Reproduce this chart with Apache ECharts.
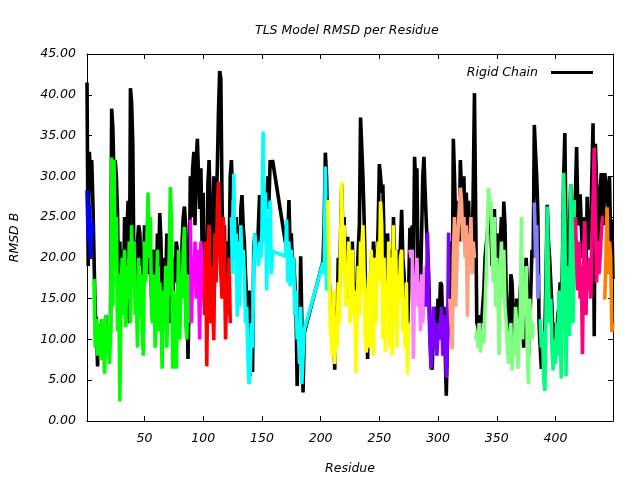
<!DOCTYPE html>
<html><head><meta charset="utf-8">
<script src="https://cdn.jsdelivr.net/npm/echarts@6/dist/echarts.min.js"></script>
<style>html,body{margin:0;padding:0;background:#fff}#c{width:640px;height:480px}</style>
</head><body><div id="c"></div>
<script>
const firstResidue = 1;
// Rigid chain RMSD B per residue (null = residue absent)
const rigidChain = [
41.5, 19, 33, 30, 32, 27, 20, 13, 12.5, 6.7,
12, 11, 9, 12.5, 10, 8, 13, 10.5, 12, 9,
11, 38.3, 36, 30, 32, 30, 25.5, 12, 22, 14,
21, 14, 25, 13, 23, 27, 12, 40.8, 39, 34,
18, 20, 14, 22, 24, 23, 19, 21, 17, 24,
22, 20, 26, 18, 21, 15, 19, 21, 13, 17,
23, 19, 25.5, 22, 12, 20, 14, 16, 23, 19,
12, 24, 18, 13, 20, 17, 22, 21, 14, 20,
16, 22, 25, 26.3, 24, 19, 7.6, 15, 30, 25,
31, 33, 24, 32, 34.6, 30, 26, 31, 22, 28,
14, 22, 16, 29, 32, 25, 18, 22, 30, 20,
26, 31, 38, 42.9, 42, 27, 20, 24, 15, 22,
17, 20, 30, 32, 28, 27, 22, 25, 18, 24,
20, 26, 27.7, 24, 22, 18, 15, 12, 16, 5.5,
10, 6, 21, 23, 22, 20, 24, 27.7, 22, 25,
24, 22, 28, 26, 30, 27, 32, 31, 32, null,
null, null, null, null, null, null, null, null, null, 21.9,
24, 22, 27.1, 21, 23, 19, 20, 17, 14, 4.3,
12, 9, 20.2, 12, 3.5, 10.8, null, null, null, null,
null, null, null, null, null, null, null, null, null, null,
null, 19.6, 24, 32.9, 30, 23, 18, 15, 12, 9,
13, 6.3, 14, 12, 20, 16, 23, 29, 22, 25,
18, 21, 22.6, 17, 14, 19, 22, 15, 17, 12,
17, 21, 24, 37.2, 37, 30, 25, 18, 14, 7.6,
18, 13, 20, 17, 22, 16, 21, 19, 24, 31.5,
30, 28, 29, 22, 19, 14, 23, 18, 21, 17,
15, 25, 20, 14, 21, 19, 16, 22, 25.9, 20,
18, 13, 17, 11, 16, 23.7, 22, 24, 18, 32.4,
29, 31, 17, 20, 16, 23, 30, 32.4, 28, 24.3,
24.3, 18, 12, 7, 6.3, 11, 14, 9, 12, 15,
12, 17, 16.7, 11, 14, 9, 3.1, 10, 12, 22,
14, 12, 34.6, 30, 24, 27, 25, 22, 32, 28,
26, 30, 22, 28, 24, 27, 21, 25, 19, 29,
40.2, 26, 12, 11.6, 10, 13, 12, 14, 16, 20,
20, 23, 25, 27, 24, 19, 22, 26, 18, 23,
21, 14, 22, 25, 20, 26.9, 24, 16, 13, 10,
12, 18, 17, 13, 9, 11, 15, 14, 12, 16,
18, 12, 9, 14, 20, 17, 8, 11, 16, 21,
20, 36.3, 33, 30, 25.5, 12, 9, 6.4, 10, 8,
11, 18, 26.5, 22, 20, 17, 14, 10, 12, 9,
10, 13, 14, 17, 12, 20, 30, 35.3, 22, 15,
18, 24, 29, 20, 14, 22, 28, 33.6, 26, 24,
27.8, 24, 20, 25, 22, 18, 27.5, 21, 24, 23,
30, 36.5, 10.4, 34, 29, 25, 22, 28, 30.4, 27,
24, 30.4, 29, 28, 26, 30, 22, 24.7, 17.4
];
// TLS model RMSD B per residue (null = residue absent)
const tlsModel = [
28.3, 22, 26.5, 20, 24.5, 23, 17.4, 9, 12.5, 8,
12, 11, 7.5, 12.5, 9, 5.8, 13, 8, 12, 7,
10, 32.3, 14, 32, 20, 25, 11, 18, 2.4, 16,
20, 13, 21, 11.5, 19, 15, 22, 12, 24, 17,
22, 13, 16, 9, 20, 13, 18, 11, 8, 22,
17, 22, 28, 20, 25, 13, 12, 18, 9, 14,
21, 11, 17, 14, 6.4, 16, 12, 19, 9, 15,
20, 28.7, 24, 6.4, 16, 11, 6.4, 13, 21, 10,
17, 15, 21, 23.8, 12, 10, 18, 12, 24.7, 12,
20, 17, 22, 15, 21, 18, 10, 22, 19, 15,
13, 22, 6.7, 20, 24, 12, 19, 14, 9.9, 23,
17, 26, 29.3, 22, 18, 15, 25, 21, 10, 17,
13, 20, 12, 25, 18, 30.3, 20, 23, 12.8, 22,
14, 24, 19, 21, 18, 12, 14, 8, 4.5, 6,
12, 9, 19, 23, 20, 21, 19, 22, 20, 23,
35.5, 22, 28, 16, 25, 20, 27, 18, 20.8, null,
null, null, null, null, null, null, null, null, null, 20.2,
24.7, 17, 22, 16.5, 21, 18, 20, 13, 16, 10,
11, 7, 14, 4.5, 8, 11.2, null, null, null, null,
null, null, null, null, null, null, null, null, null, null,
null, 19.4, 18, 31.2, 16, 27.1, 20, 12, 10, 8,
16, 7, 11, 9, 17, 12, 22, 29.3, 18, 24,
14, 19, 16, 22, 12, 18, 21, 13, 16, 5.9,
12, 19, 13, 22, 16, 24, 18, 10, 8.4, 15,
18, 9, 21, 16, 8, 20, 12, 19, 22, 17,
26.9, 24, 10, 20, 8.5, 17, 13, 22, 9, 20,
8, 24, 12, 21, 9, 18, 15, 20, 21, 11,
14, 9, 17, 5.7, 12, 21, 20, 21, 7.6, 18,
16, 20, 14, 17, 11, 18, 12, 15, 19, 14,
23.1, 15, 10, 6.4, 11, 14, 9, 12, 8, 11,
10, 12, 14, 8, 11, 13, 5.3, 9, 23.1, 15,
12, 8.8, 20, 25, 14, 19, 23, 26, 28.6, 27,
22, 25, 20, 24, 12.8, 23, 21, 25, 18, 22,
20, 10, 11, 9, 12, 8.4, 10, 11, 9.5, 14,
18, 24, 28.6, 26, 27, 22, 17, 25, 14, 20,
16, 8.1, 18, 22, 15, 21, 14, 12, 9, 7,
10, 12, 6.2, 9, 8, 14, 12, 6.4, 10, 13,
25, 10, 16, 13, 19, 9, 4.5, 15, 12, 10,
12, 26.8, 20, 24, 15, 18, 12.5, 9, 11, 5,
3.7, 14, 26.3, 18, 12, 15, 9, 6.2, 10, 7,
12, 8, 16, 11, 5.2, 17, 30.4, 24, 5.5, 19,
13, 10.4, 29, 18, 12, 27.1, 25, 20, 16, 22,
15, 19, 8.2, 21, 24.5, 13, 19, 16, 20, 15,
22, 27, 33.5, 25, 17, 22, 18, 20, 23, 25,
25, 14.9, 20, 26.2, 18, 22, 20.2, 10.9, 12
];
// TLS groups: residue ranges and colours
const groupStart = [1, 7, 89, 101, 124, 206, 276, 290, 310, 332, 382, 387, 417, 442];
const groupEnd   = [6, 88, 100, 123, 205, 275, 289, 309, 331, 381, 386, 416, 441, 449];
const groupColor = ['#0000ff', '#00ff00', '#ff00ff', '#ff0000', '#00ffff', '#ffff00', '#ff80ff',
                    '#8000ff', '#ffa080', '#80ff80', '#8080ff', '#00ff80', '#ff0080', '#ff8000'];
const xTickValues = [50, 100, 150, 200, 250, 300, 350, 400];
const xMin = 1, xMax = 449;
const yMin = 0, yMax = 45, yStep = 5;

function pairs(values, from, to) {
  const out = [];
  for (let r = from; r <= to; r++) {
    const v = values[r - firstResidue];
    if (v !== null && v !== undefined) out.push([r, v]);
  }
  return out;
}

const FONT = 'DejaVu Sans';
const txt = { fontFamily: FONT, fontStyle: 'italic', fontSize: 12.5, color: '#000' };
const LW = 3.6;

const series = [{
  name: 'Rigid Chain', type: 'line', showSymbol: false, symbol: 'none',
  data: pairs(rigidChain, firstResidue, firstResidue + rigidChain.length - 1),
  lineStyle: { color: '#000', width: LW, join: 'bevel' }, itemStyle: { color: '#000' },
  z: 2, silent: true
}];
groupStart.forEach((s, i) => {
  series.push({
    name: 'TLS group ' + (i + 1), type: 'line', showSymbol: false, symbol: 'none',
    data: pairs(tlsModel, s, groupEnd[i]),
    lineStyle: { color: groupColor[i], width: LW, join: 'bevel' }, itemStyle: { color: groupColor[i] },
    z: 3, silent: true
  });
});

const chart = echarts.init(document.getElementById('c'), null, { renderer: 'canvas' });
chart.setOption({
  animation: false,
  backgroundColor: '#fff',
  title: { text: 'TLS Model RMSD per Residue', left: 250, top: 19,
    textStyle: { fontFamily: FONT, fontStyle: 'italic', fontWeight: 'normal', fontSize: 12.5, color: '#000' } },
  legend: {
    data: ['Rigid Chain'], right: 42, top: 61, align: 'right', icon: 'rect',
    itemWidth: 42, itemHeight: 3, textStyle: Object.assign({}, txt, { padding: [0, 8, 0, 0] }),
    selectedMode: false
  },
  grid: { left: 85, right: 27, top: 54, bottom: 58, containLabel: false },
  xAxis: [{
    type: 'value', min: xMin, max: xMax, position: 'bottom',
    name: 'Residue', nameLocation: 'middle', nameGap: 41,
    nameTextStyle: Object.assign({}, txt),
    axisLine: { show: true, lineStyle: { color: '#000', width: 1 } },
    axisTick: { show: true, inside: true, length: 5, customValues: xTickValues, lineStyle: { color: '#000' } },
    axisLabel: { show: true, customValues: xTickValues, margin: 11, ...txt },
    splitLine: { show: false }
  }, {
    type: 'value', min: xMin, max: xMax, position: 'top',
    axisLine: { show: true, onZero: false, lineStyle: { color: '#000', width: 1 } },
    axisTick: { show: true, inside: true, length: 5, customValues: xTickValues, lineStyle: { color: '#000' } },
    axisLabel: { show: false }, splitLine: { show: false }
  }],
  yAxis: [{
    type: 'value', min: yMin, max: yMax, interval: yStep, position: 'left',
    name: 'RMSD B', nameLocation: 'middle', nameGap: 66, nameRotate: 90,
    nameTextStyle: Object.assign({}, txt),
    axisLine: { show: true, lineStyle: { color: '#000', width: 1 } },
    axisTick: { show: true, inside: true, length: 5, lineStyle: { color: '#000' } },
    axisLabel: { show: true, margin: 11, formatter: v => v.toFixed(2), ...txt },
    splitLine: { show: false }
  }, {
    type: 'value', min: yMin, max: yMax, interval: yStep, position: 'right',
    axisLine: { show: true, onZero: false, lineStyle: { color: '#000', width: 1 } },
    axisTick: { show: true, inside: true, length: 5, lineStyle: { color: '#000' } },
    axisLabel: { show: false }, splitLine: { show: false }
  }],
  series: series
});
</script></body></html>
